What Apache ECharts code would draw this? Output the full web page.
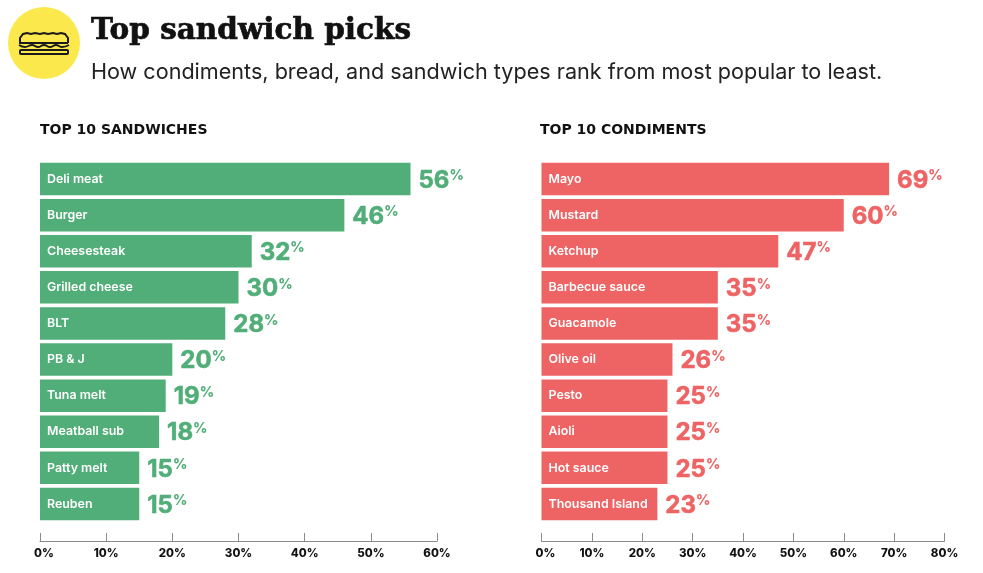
<!DOCTYPE html>
<html><head><meta charset="utf-8">
<style>html,body{margin:0;padding:0;background:#fff}#c{width:983px;height:573px}</style>
<script src="https://cdn.jsdelivr.net/npm/echarts@6/dist/echarts.min.js"></script>
</head><body><div id="c"></div>
<script>
const sandwichNames=['Deli meat','Burger','Cheesesteak','Grilled cheese','BLT','PB & J','Tuna melt','Meatball sub','Patty melt','Reuben'];
const sandwichValues=[56,46,32,30,28,20,19,18,15,15];
const condimentNames=['Mayo','Mustard','Ketchup','Barbecue sauce','Guacamole','Olive oil','Pesto','Aioli','Hot sauce','Thousand Island'];
const condimentValues=[69,60,47,35,35,26,25,25,25,23];
const chartTitle='Top sandwich picks';
const chartSubtitle='How condiments, bread, and sandwich types rank from most popular to least.';
const leftHeading='TOP 10 SANDWICHES', rightHeading='TOP 10 CONDIMENTS';
const GREEN='#52ae79', RED='#ee6464', F='Inter';
const chart=echarts.init(document.getElementById('c'),null,{renderer:'canvas'});
const tickFont={color:'#111',fontFamily:F,fontWeight:800,fontSize:11.5};
function xAxis(i,max){return {gridIndex:i,type:'value',min:0,max:max,interval:10,position:'bottom',offset:19,
  axisLine:{show:true,lineStyle:{color:'#8a8a8a',width:1}},
  axisTick:{show:true,inside:true,length:8,lineStyle:{color:'#8a8a8a',width:1}},
  splitLine:{show:false},
  axisLabel:Object.assign({},tickFont,{margin:7,hideOverlap:false,showMinLabel:true,showMaxLabel:true,
    formatter:v=>v===0?'{z|0%}':v+'%',
    rich:{z:Object.assign({},tickFont,{padding:[0,0,0,8]})}})};}
function yAxis(i,names){return {gridIndex:i,type:'category',data:names,inverse:true,z:6,
  axisLine:{show:false},axisTick:{show:false},
  axisLabel:{inside:true,margin:7,color:'#fff',fontFamily:F,fontWeight:600,fontSize:12.4,interval:0}};}
function series(i,vals,color){return {type:'bar',xAxisIndex:i,yAxisIndex:i,data:vals,barWidth:32.5,z:2,
  itemStyle:{color:color},silent:true,
  label:{show:true,position:'right',distance:8,formatter:p=>'{v|'+p.value+'}{p|%}',
    rich:{v:{fontFamily:F,fontWeight:700,fontSize:24,color:color,lineHeight:30,padding:[3,0,0,0],textBorderColor:color,textBorderWidth:0.6},
          p:{fontFamily:F,fontWeight:800,fontSize:14,color:color,verticalAlign:'middle',lineHeight:22,padding:[0,0,6,0]}}}};}
const ink='#1a1a1a';
chart.setOption({
  animation:false,backgroundColor:'#fff',
  title:[
    {text:chartTitle,left:91,top:16,padding:0,textStyle:{fontFamily:'DejaVu Serif',fontWeight:'bold',fontSize:29.5,color:'#111',textBorderColor:'#111',textBorderWidth:0.7}},
    {text:chartSubtitle,left:91,top:61,padding:0,textStyle:{fontFamily:'Inter',fontWeight:400,fontSize:21.6,color:'#222'}},
    {text:leftHeading,left:40,top:123,padding:0,textStyle:{fontFamily:'DejaVu Sans',fontWeight:'bold',fontSize:14,color:'#111'}},
    {text:rightHeading,left:540,top:123,padding:0,textStyle:{fontFamily:'DejaVu Sans',fontWeight:'bold',fontSize:14,color:'#111'}}
  ],
  grid:[
    {left:40,width:397,top:161,height:361,containLabel:false},
    {left:541.5,width:403,top:161,height:361,containLabel:false}
  ],
  xAxis:[xAxis(0,60),xAxis(1,80)],
  yAxis:[yAxis(0,sandwichNames),yAxis(1,condimentNames)],
  series:[series(0,sandwichValues,GREEN),series(1,condimentValues,RED)],
  graphic:[
    {type:'circle',shape:{cx:44,cy:43,r:36},style:{fill:'#fbe84c'}},
    {type:'polyline',shape:{points:[[20,43],[20,38],[23,34],[27,33],[31,34],[35,33],[40,34],[44,33],[48,34],[53,33],[57,34],[61,33],[65,34],[68,38],[68,43]]},style:{fill:'none',stroke:ink,lineWidth:2}},
    {type:'polyline',shape:{points:[[19,43],[68,43]]},style:{fill:'none',stroke:ink,lineWidth:2}},
    {type:'polyline',shape:{smooth:0.5,points:[[19,45],[25,47],[32,45],[38,47],[44,45],[50,47],[56,45],[62,47],[69,45]]},style:{fill:'none',stroke:ink,lineWidth:2}},
    {type:'rect',shape:{x:20,y:50,width:48,height:4,r:1},style:{fill:'none',stroke:ink,lineWidth:2}}
  ]
});
</script></body></html>
